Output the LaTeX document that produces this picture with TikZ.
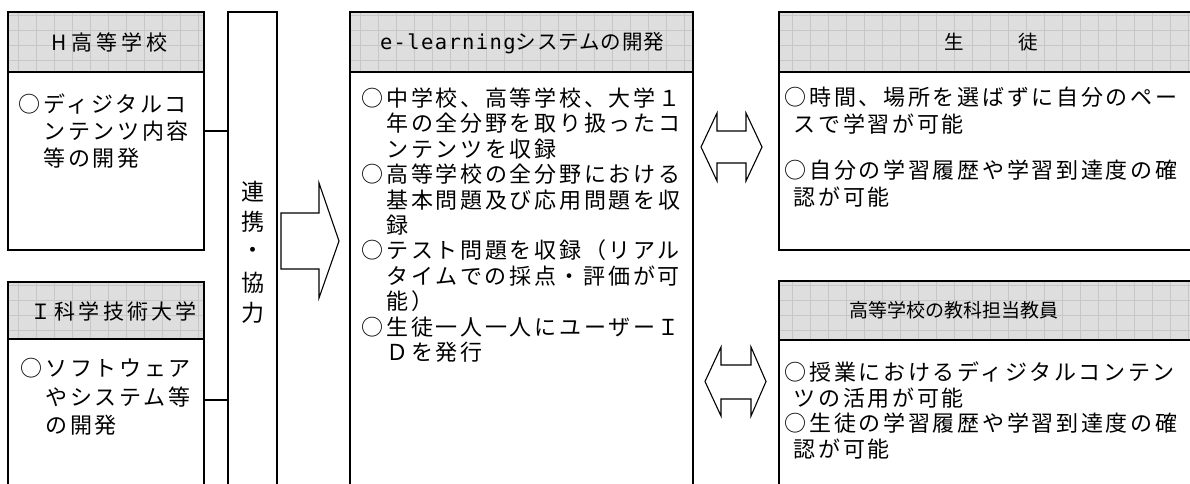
\documentclass[tikz,border=0pt]{standalone}
\usepackage{fontspec}
\newfontfamily\jbody[LetterSpace=12.3]{Noto Sans CJK JP}
\newfontfamily\jhA[LetterSpace=19]{Noto Sans CJK JP}
\newfontfamily\jhB[LetterSpace=15.7]{Noto Sans CJK JP}
\newfontfamily\jhC[LetterSpace=4.4]{Noto Sans CJK JP}
\newfontfamily\jhD[LetterSpace=26.7]{Noto Sans CJK JP}
\newfontfamily\jhE{Noto Sans CJK JP}
\newfontfamily\jplain{Noto Sans CJK JP}
\newfontfamily\monof[LetterSpace=6.6]{DejaVu Sans Mono}
\newcommand{\headgrid}[1]{%
  \begin{scope}
    \clip (#1.south west) rectangle (#1.north east);
    \draw[black!22, line width=0.45pt, xstep=18pt, ystep=15pt] (#1.south west) grid (#1.north east);
  \end{scope}
  \draw[line width=1.7pt] (#1.south west) rectangle (#1.north east);}
\begin{document}
\begin{tikzpicture}[x=1pt,y=-1pt,
  box/.style={draw, line width=1.7pt, inner sep=0pt, outer sep=0pt},
  head/.style={fill=black!13, inner sep=0pt, outer sep=0pt},
  conn/.style={line width=1.7pt},
  hollow/.style={draw, line width=1.1pt, fill=white, line join=miter},
  body/.style={font=\jbody\fontsize{22}{24}\selectfont, inner sep=0pt, anchor=base west},
  htext/.style={inner sep=0pt, anchor=base},
  vert/.style={font=\jplain\fontsize{23}{26}\selectfont, inner sep=0pt, anchor=center}]
\useasboundingbox (0,0) rectangle (1190,484);
\clip (0,0) rectangle (1190,484);
% boxes
\node[box, minimum width=196pt, minimum height=238pt] (hbox) at (106,131) {};
\node[box, minimum width=196pt, minimum height=236pt] (ibox) at (106,400) {};
\node[box, minimum width=49pt, minimum height=508pt] (renkei) at (252.5,266) {};
\node[box, minimum width=343pt, minimum height=508pt] (cbox) at (521.5,266) {};
\node[box, minimum width=416pt, minimum height=238pt] (sbox) at (987,131) {};
\node[box, minimum width=416pt, minimum height=239pt] (tbox) at (987,400.5) {};
% headers
\node[head, minimum width=196pt, minimum height=60pt] (hhead) at (106,42) {};
\node[head, minimum width=196pt, minimum height=57pt] (ihead) at (106,310.5) {};
\node[head, minimum width=343pt, minimum height=60pt] (chead) at (521.5,42) {};
\node[head, minimum width=416pt, minimum height=60pt] (shead) at (987,42) {};
\node[head, minimum width=416pt, minimum height=59pt] (thead) at (987,310.5) {};
\headgrid{hhead}
\headgrid{ihead}
\headgrid{chead}
\headgrid{shead}
\headgrid{thead}
% header texts
\node[htext, font=\jhA\fontsize{21}{24}\selectfont] (ht1) at (109.5,50.1) {H高等学校};
\node[htext, font=\jhB\fontsize{21}{24}\selectfont] (ht2) at (113.5,319.1) {Ｉ科学技術大学};
\node[htext, font=\jhC\fontsize{20.5}{24}\selectfont] (ht3) at (522,49.9) {{\monof e-learning}システムの開発};
\node[htext, font=\jhD\fontsize{19.5}{23}\selectfont] (ht4) at (991.5,49.5) {生　　徒};
\node[htext, font=\jhE\fontsize{19}{22}\selectfont] (ht5) at (954,317.8) {高等学校の教科担当教員};
% connectors
\draw[conn] (hbox.east) -- (renkei.west |- hbox.east);
\draw[conn] (ibox.east) -- (renkei.west |- ibox.east);
% vertical text
\foreach \c/\y [count=\i] in {連/192,携/222,・/253,協/283,力/313}
  \node[vert, name=v\i] at (252.5,\y) {\c};
% hollow arrows
\draw[hollow] (281,213) -- (319,213) -- (319,183) -- (339,241) -- (319,298) -- (319,269) -- (281,269) -- cycle;
\draw[hollow] (701,147) -- (717,113) -- (717,131) -- (746,131) -- (746,113) -- (762,147) -- (746,181) -- (746,163) -- (717,163) -- (717,181) -- cycle;
\draw[hollow] (705,381.5) -- (721,347) -- (721,365) -- (751,365) -- (751,347) -- (766,381.5) -- (751,416) -- (751,399) -- (721,399) -- (721,416) -- cycle;
% body texts
\foreach \x/\y/\t [count=\i] in {18.5/104/○ディジタルコ, 18.5/131/　ンテンツ内容, 18.5/158/　等の開発}
  \node[body, name=hl\i] at (\x,\y+8.5) {\t};
\foreach \x/\y/\t [count=\i] in {20.5/368/○ソフトウェア, 20.5/396.5/　やシステム等, 20.5/425/　の開発}
  \node[body, name=il\i] at (\x,\y+8.5) {\t};
\foreach \x/\y/\t [count=\i] in {
  361.5/98/○中学校、高等学校、大学１,
  361.5/123.4/　年の全分野を取り扱ったコ,
  361.5/148.8/　ンテンツを収録,
  361.5/174.2/○高等学校の全分野における,
  361.5/199.6/　基本問題及び応用問題を収,
  361.5/225/　録,
  361.5/250.4/○テスト問題を収録（リアル,
  361.5/275.8/　タイムでの採点・評価が可,
  361.5/301.2/　能）,
  361.5/326.6/○生徒一人一人にユーザーＩ,
  361.5/352/　Ｄを発行}
  \node[body, name=cl\i] at (\x,\y+8.5) {\t};
\foreach \x/\y/\t [count=\i] in {
  784.5/97/○時間、場所を選ばずに自分のペー,
  793.5/124/スで学習が可能,
  784.5/170/○自分の学習履歴や学習到達度の確,
  793.5/197/認が可能}
  \node[body, name=sl\i] at (\x,\y+8.5) {\t};
\foreach \x/\y/\t [count=\i] in {
  784.5/372/○授業におけるディジタルコンテン,
  793.5/397.5/ツの活用が可能,
  784.5/423/○生徒の学習履歴や学習到達度の確,
  793.5/448.5/認が可能}
  \node[body, name=tl\i] at (\x,\y+8.5) {\t};
\end{tikzpicture}
\end{document}
